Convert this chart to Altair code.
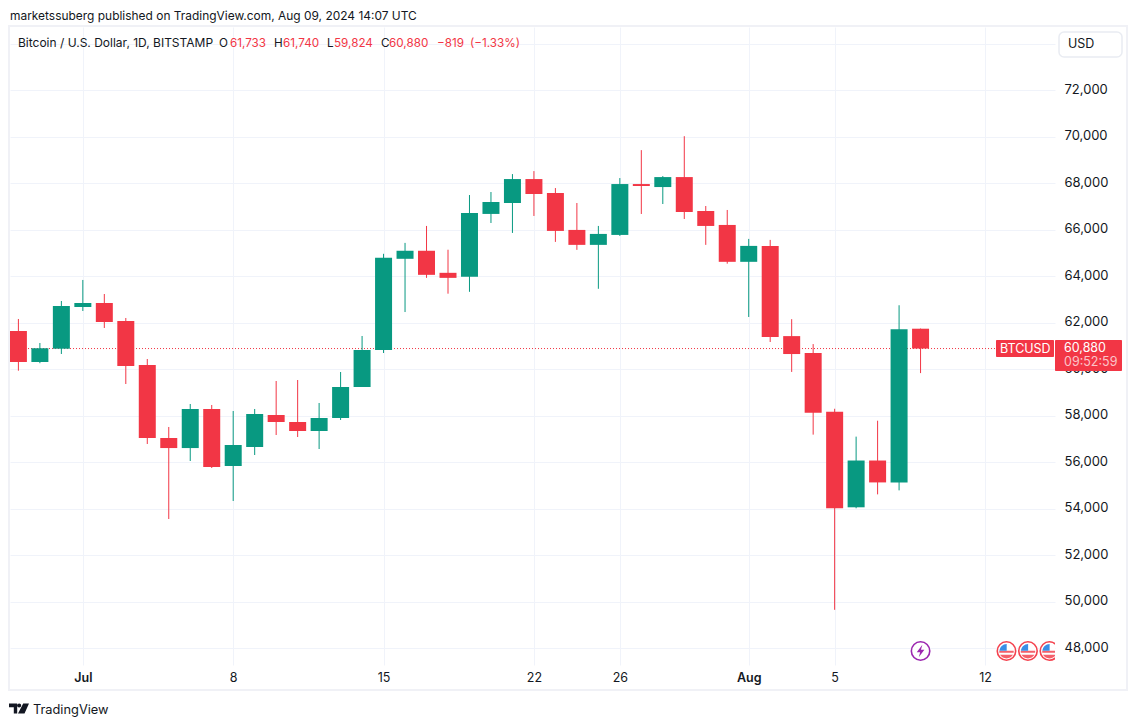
import altair as alt
import pandas as pd
from datetime import datetime, timezone

dates = list(pd.date_range("2024-06-28", "2024-08-09", freq="D").strftime("%Y-%m-%d"))
opens = [61635,60301,60873,62667,62839,62065,60172,57032,56600,58280,55828,56645,58022,57720,57333,57893,59226,60817,
         64740,65086,64137,63965,66670,67140,68170,67570,65982,65339,65767,67955,67826,68255,66797,66196,64610,65295,
         61415,60687,58161,54052,56064,55122,61733]
highs = [62151,61119,62925,63830,63226,62194,60430,57506,58495,58452,58194,58280,59484,59527,58538,59871,61420,64955,
         65424,66153,65130,67483,67612,68384,68513,67783,67140,66153,68213,69414,68298,70014,67011,66840,65596,65553,
         62143,61072,58290,57091,57776,62742,61740]
lows = [59927,60250,60646,62495,61764,59355,56775,53549,56043,55742,54323,56301,57161,57075,56559,57807,59226,60688,
        62450,63920,63240,63320,66280,65853,66582,65467,65125,63450,65724,66668,67097,66453,65339,64530,62237,61161,
        59874,57177,49642,54009,54608,54780,59824]
closes = [60301,60890,62710,62839,62022,60130,57032,56600,58280,55785,56731,58065,57720,57333,57893,59226,60817,64783,
          65086,64050,63920,66710,67183,68170,67526,65939,65339,65810,67955,67870,68255,66754,66153,64610,65295,61377,
          60644,58118,54009,56064,55122,61715,60880]

y_ticks = [48000,50000,52000,54000,56000,58000,60000,62000,64000,66000,68000,70000,72000]
y_grid_extra = [74000]
x_tick_dates = ["2024-07-01","2024-07-08","2024-07-15","2024-07-22","2024-07-26","2024-08-01","2024-08-05","2024-08-12"]
flag_dates = ["2024-08-13","2024-08-14","2024-08-15"]
bolt_dates = ["2024-08-09"]
event_price = [47870]
last_close = [60880]

HEADER = "marketssuberg published on TradingView.com, Aug 09, 2024 14:07 UTC"
SYMBOL = "Bitcoin / U.S. Dollar, 1D, BITSTAMP"
FONT = "Inter"
INK = "#131722"
RED = "#f23645"
GREEN = "#089981"
GRID = "#f0f3fa"

def ms(d):
    return int(datetime.strptime(d, "%Y-%m-%d").replace(tzinfo=timezone.utc).timestamp() * 1000)

df = pd.DataFrame({"date": dates, "o": opens, "h": highs, "l": lows, "c": closes})
df["top"] = df[["o", "c"]].max(axis=1)
df["bot"] = df[["o", "c"]].min(axis=1)
df["dir"] = ["up" if c >= o else "down" for o, c in zip(opens, closes)]

xscale = alt.Scale(type="utc", padding=0, domain=[ms("2024-06-28") - 33800000, ms("2024-06-28") - 33800000 + int(48.65 * 86400000)])
yscale = alt.Scale(domain=[47269, 74710], nice=False, zero=False, padding=0)
colors = alt.Scale(domain=["up", "down"], range=[GREEN, RED])

x_axis = alt.Axis(
    values=[ms(d) for d in x_tick_dates], title=None, grid=True, gridColor=GRID, gridWidth=1,
    domain=False, ticks=False, labelPadding=6, labelFont=FONT, labelFontSize=12.5, labelColor=INK,
    labelExpr="utcdate(datum.value)==1 ? utcFormat(datum.value,'%b') : utcdate(datum.value)",
    labelFontWeight={"condition": {"test": "utcdate(datum.value)==1", "value": 600}, "value": 400},
    labelFlush=False, labelOverlap=False,
)
y_axis = alt.Axis(
    values=y_ticks + y_grid_extra, orient="right", title=None, grid=True, gridColor=GRID, gridWidth=1,
    domain=False, ticks=False, labelPadding=9, labelFont=FONT, labelFontSize=13, labelColor=INK,
    labelExpr="datum.value > 73000 ? '' : format(datum.value, ',')", labelOverlap=False, labelOffset=-1,
)

X = alt.X("date:T", scale=xscale, axis=x_axis)
X0 = alt.X("date:T", scale=xscale, axis=None)
Y0 = lambda f: alt.Y(f, type="quantitative", scale=yscale, axis=None)

axes_layer = alt.Chart(df).mark_rule(opacity=0).encode(
    x=X, y=alt.Y("l:Q", scale=yscale, axis=y_axis), y2="h:Q",
)
price_line = alt.Chart(pd.DataFrame({"p": last_close})).mark_rule(
    color=RED, strokeWidth=1, strokeDash=[1, 2]
).encode(x=alt.value(0), x2=alt.value(986), y=Y0("p"))
wicks = alt.Chart(df).mark_rule(strokeWidth=1, clip=True).encode(
    x=X0, y=Y0("l"), y2="h:Q",
    color=alt.Color("dir:N", scale=colors, legend=None),
)
bodies = alt.Chart(df).mark_bar(size=17, clip=True).encode(
    x=X0, y=Y0("bot"), y2="top:Q",
    color=alt.Color("dir:N", scale=colors, legend=None),
)

def box(x0, x1, y0, y1, **kw):
    return alt.Chart(pd.DataFrame({"a": [0]})).mark_rect(**kw).encode(
        x=alt.value(x0), x2=alt.value(x1), y=alt.value(y0), y2=alt.value(y1))

def label(s, x, y, color=INK, size=11.7, align="left", weight=400):
    return alt.Chart(pd.DataFrame({"a": [0]})).mark_text(
        text=s, align=align, baseline="middle", font=FONT, fontSize=size, color=color, fontWeight=weight
    ).encode(x=alt.value(x), y=alt.value(y))

frame = box(-1, 1117, -1, 663, fill=None, stroke="#f0f1f6", strokeWidth=2)
usd_box = box(1049, 1112, 5, 30, fill="white", stroke="#e9ecf2", strokeWidth=1.5, cornerRadius=5)
sym_tag = box(986, 1044, 313, 330, fill=RED, cornerRadius=1)
price_tag = box(1045, 1112, 313, 344, fill=RED, cornerRadius=1)

flag_df = pd.DataFrame({"date": flag_dates, "p": event_price * 3})
bolt_df = pd.DataFrame({"date": bolt_dates, "p": event_price})

def sym(d, shape, size, **kw):
    return alt.Chart(d).mark_point(shape=shape, size=size, clip=True, opacity=1, **kw).encode(x=X0, y=Y0("p"))

BOLT = "M0.18,-0.62 L-0.38,0.12 L-0.04,0.12 L-0.18,0.62 L0.38,-0.12 L0.04,-0.12 Z"
STRIPES = "M-0.8,-0.02 L0.8,-0.02 L0.8,0.2 L-0.8,0.2 Z M-0.72,0.42 L0.72,0.42 A0.85,0.85 0 0 1 -0.72,0.42 Z"
CANTON = "M-0.78,-0.02 A0.8,0.8 0 0 1 0.02,-0.78 L0.02,-0.02 Z"
LOGO = ("M-1,-0.5 L-0.18,-0.5 L-0.18,0.5 L-0.52,0.5 L-0.52,-0.12 L-1,-0.12 Z "
        "M0.02,-0.5 A0.2,0.2 0 1 1 0.02,-0.1 A0.2,0.2 0 1 1 0.02,-0.5 Z "
        "M0.42,-0.5 L1,-0.5 L0.55,0.5 L-0.1,0.5 Z")

events = [
    sym(bolt_df, "circle", 340, filled=True, fill="white", stroke="#9c27b0", strokeWidth=1.6),
    sym(bolt_df, BOLT, 400, filled=True, fill="#9c27b0", stroke=None),
    sym(flag_df, "circle", 340, filled=True, fill="white", stroke="#f4434f", strokeWidth=1.6),
    sym(flag_df, STRIPES, 324, filled=True, fill="#f4606b", stroke=None),
    sym(flag_df, CANTON, 324, filled=True, fill="#3a8ee6", stroke=None),
]

logo = alt.Chart(pd.DataFrame({"a": [0]})).mark_point(
    shape=LOGO, size=400, filled=True, fill=INK, stroke=None, opacity=1
).encode(x=alt.value(9), y=alt.value(681.5))

texts = [
    label(HEADER, 0, -11.5, size=11.95),
    label(SYMBOL, 8, 16, size=12),
    label("O", 209, 16), label("61,733", 220, 16, RED),
    label("H", 264, 16), label("61,740", 273, 16, RED),
    label("L", 317, 16), label("59,824", 324, 16, RED),
    label("C", 371, 16), label("60,880", 379, 16, RED),
    label("\u2212819", 427, 16, RED), label("(\u22121.33%)", 460, 16, RED),
    label("USD", 1058, 16.5, size=12.5),
    label("BTCUSD", 990, 321.5, "white", 12.5),
    label("60,880", 1054, 320.5, "white", 12.5),
    label("09:52:59", 1054, 335, "#fbc4c9", 12.5),
    label("TradingView", 23, 682.5, "#131722", 12.8),
]

chart = alt.layer(
    axes_layer, price_line, wicks, bodies, frame, *events, sym_tag, price_tag, usd_box, logo, *texts
).resolve_axis(x="independent", y="independent").properties(
    width=1045, height=638,
    autosize=alt.AutoSizeParams(type="none"),
    padding={"left": 2, "top": 19, "right": 74, "bottom": 52},
    background="white",
).configure_view(stroke=None)

chart.save("out.html", embed_options={"renderer": "svg", "actions": False})
